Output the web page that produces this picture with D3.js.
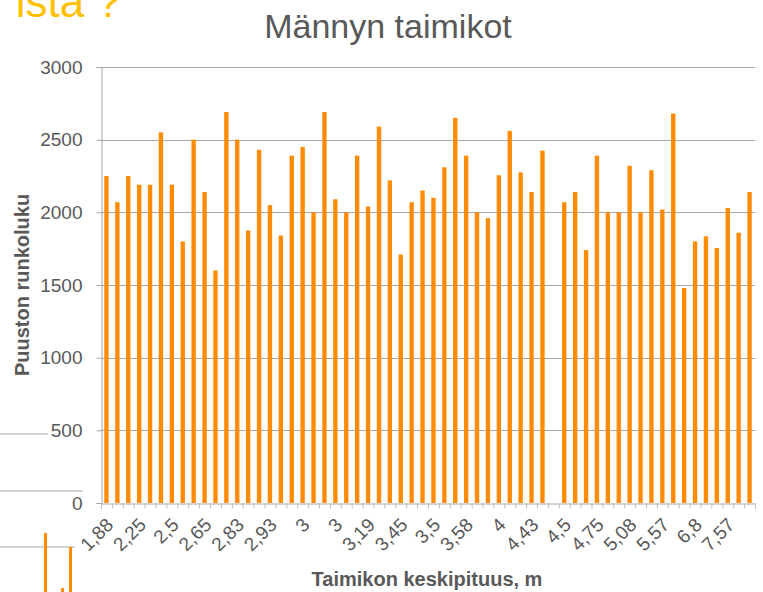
<!DOCTYPE html>
<html>
<head>
<meta charset="utf-8">
<script src="https://cdn.jsdelivr.net/npm/d3@7"></script>
<style>
  body { margin: 0; background: #fff; }
  svg { display: block; font-family: "Liberation Sans", Arial, sans-serif; }
</style>
</head>
<body>
<svg id="chart" width="763" height="592"></svg>
<script>
// stem counts per plot, left to right (null = empty slot in the original)
const runkoluku = [
  2250, 2070, 2250, 2190, 2190, 2550, 2190, 1800, 2500, 2140,
  1600, 2690, 2500, 1875, 2430, 2050, 1840, 2390, 2450, 2000,
  2690, 2090, 2000, 2390, 2040, 2590, 2220, 1710, 2070, 2150,
  2100, 2310, 2650, 2390, 2000, 1960, 2255, 2560, 2275, 2140,
  2425, null, 2070, 2140, 1740, 2390, 2000, 2000, 2320, 2000,
  2290, 2020, 2680, 1480, 1800, 1835, 1755, 2030, 1860, 2140
];
// only every third category carries a label
const tickLabels = ["1,88", "2,25", "2,5", "2,65", "2,83", "2,93", "3", "3", "3,19", "3,45",
                    "3,5", "3,58", "4", "4,43", "4,5", "4,75", "5,08", "5,57", "6,8", "7,57"];
const labelStep = 3;
const yTicks = [0, 500, 1000, 1500, 2000, 2500, 3000];

const title = "Männyn taimikot";
const yTitle = "Puuston runkoluku";
const xTitle = "Taimikon keskipituus, m";

const svg = d3.select("#chart");
const margin = { top: 67, right: 8, bottom: 89, left: 101 };
const width = 763, height = 592;

const x = d3.scaleBand()
    .domain(d3.range(runkoluku.length))
    .range([margin.left, width - margin.right])
    .paddingInner(0.6)
    .paddingOuter(0.3);

const y = d3.scaleLinear()
    .domain([0, 3000])
    .range([height - margin.bottom, margin.top]);

// leftovers of the slide behind the chart
svg.append("text")
    .attr("x", 121).attr("y", 17)
    .attr("text-anchor", "end")
    .attr("font-size", 44)
    .attr("fill", "#ffc000")
    .text("ista ?");

const bg = svg.append("g").attr("class", "bg");
bg.selectAll("line.g")
  .data([[434, 48], [491, 83], [547, 75]])
  .enter().append("line")
    .attr("x1", 0).attr("x2", d => d[1])
    .attr("y1", d => d[0]).attr("y2", d => d[0])
    .attr("stroke", "#a6a6a6");
bg.selectAll("rect")
  .data([[44, 533], [69, 547], [61, 588]])
  .enter().append("rect")
    .attr("x", d => d[0]).attr("y", d => d[1])
    .attr("width", 3).attr("height", d => 592 - d[1])
    .attr("fill", "#ff8c00");

// gridlines
svg.append("g")
  .selectAll("line")
  .data(yTicks.filter(d => d > 0))
  .enter().append("line")
    .attr("x1", margin.left).attr("x2", width - margin.right)
    .attr("y1", d => Math.round(y(d)) + 0.5).attr("y2", d => Math.round(y(d)) + 0.5)
    .attr("stroke", "#a6a6a6");

// bars
svg.append("g")
  .selectAll("rect")
  .data(runkoluku.map((v, i) => ({ i, v })).filter(d => d.v != null))
  .enter().append("rect")
    .attr("x", d => x(d.i))
    .attr("y", d => y(d.v))
    .attr("width", x.bandwidth())
    .attr("height", d => y(0) - y(d.v))
    .attr("fill", "#ff8c00");

// y axis
const yAxis = svg.append("g")
    .attr("transform", `translate(${margin.left + 0.5},0)`)
    .call(d3.axisLeft(y).tickValues(yTicks).tickSize(5).tickPadding(14).tickFormat(d3.format("d")));
yAxis.select(".domain").attr("stroke", "#a6a6a6");
yAxis.selectAll(".tick line").attr("stroke", "#a6a6a6");
yAxis.selectAll("text")
    .attr("font-size", 19)
    .attr("font-family", "Liberation Sans, Arial, sans-serif")
    .attr("fill", "#595959");

// x axis: tick marks at every band boundary
const edge = d3.scaleLinear().domain([0, runkoluku.length]).range(x.range());
const xAxis = svg.append("g")
    .attr("transform", `translate(0,${Math.round(y(0)) + 0.5})`)
    .call(d3.axisBottom(edge).tickValues(d3.range(runkoluku.length + 1)).tickSize(5).tickFormat(""));
xAxis.select(".domain").attr("stroke", "#a6a6a6");
xAxis.selectAll(".tick line").attr("stroke", "#bfbfbf");

// x category labels, rotated
svg.append("g")
  .selectAll("text")
  .data(tickLabels)
  .enter().append("text")
    .attr("transform", (d, k) => {
      const cx = x(k * labelStep) + x.bandwidth() / 2;
      return `translate(${cx - 2},${y(0) + 13}) rotate(-45)`;
    })
    .attr("text-anchor", "end")
    .attr("dy", "0.75em")
    .attr("font-size", 19)
    .attr("fill", "#595959")
    .text(d => d);

// titles
svg.append("text")
    .attr("x", 388).attr("y", 38)
    .attr("text-anchor", "middle")
    .attr("font-size", 34)
    .attr("fill", "#595959")
    .text(title);

svg.append("text")
    .attr("transform", `translate(29,${(margin.top + y(0)) / 2}) rotate(-90)`)
    .attr("text-anchor", "middle")
    .attr("font-size", 20)
    .attr("font-weight", "bold")
    .attr("fill", "#595959")
    .text(yTitle);

svg.append("text")
    .attr("x", 427).attr("y", 586)
    .attr("text-anchor", "middle")
    .attr("font-size", 20)
    .attr("font-weight", "bold")
    .attr("fill", "#595959")
    .text(xTitle);
</script>
</body>
</html>
